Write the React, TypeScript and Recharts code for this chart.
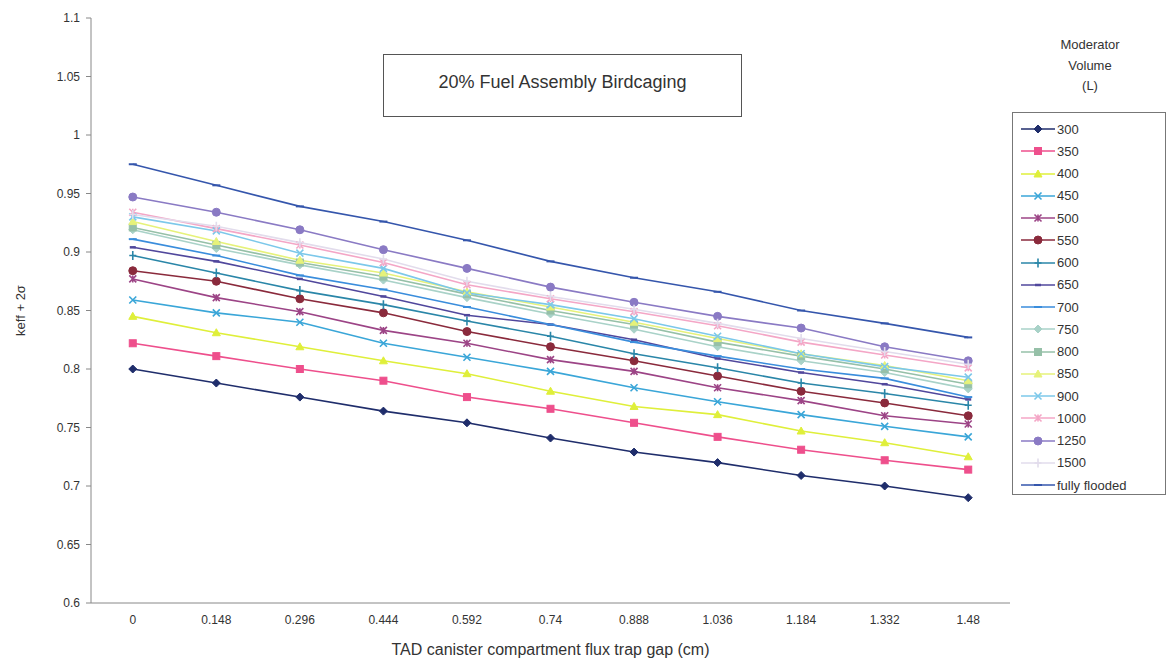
import React from 'react';
import { LineChart, Line, XAxis, YAxis, Label } from 'recharts';

const categories = ['0', '0.148', '0.296', '0.444', '0.592', '0.74', '0.888', '1.036', '1.184', '1.332', '1.48'];
const yTicks = [0.6, 0.65, 0.7, 0.75, 0.8, 0.85, 0.9, 0.95, 1, 1.05, 1.1];

const s300 = [0.800, 0.788, 0.776, 0.764, 0.754, 0.741, 0.729, 0.720, 0.709, 0.700, 0.690];
const s350 = [0.822, 0.811, 0.800, 0.790, 0.776, 0.766, 0.754, 0.742, 0.731, 0.722, 0.714];
const s400 = [0.845, 0.831, 0.819, 0.807, 0.796, 0.781, 0.768, 0.761, 0.747, 0.737, 0.725];
const s450 = [0.859, 0.848, 0.840, 0.822, 0.810, 0.798, 0.784, 0.772, 0.761, 0.751, 0.742];
const s500 = [0.877, 0.861, 0.849, 0.833, 0.822, 0.808, 0.798, 0.784, 0.773, 0.760, 0.753];
const s550 = [0.884, 0.875, 0.860, 0.848, 0.832, 0.819, 0.807, 0.794, 0.781, 0.771, 0.760];
const s600 = [0.897, 0.882, 0.867, 0.855, 0.841, 0.828, 0.813, 0.801, 0.788, 0.779, 0.769];
const s650 = [0.904, 0.892, 0.877, 0.862, 0.846, 0.838, 0.825, 0.809, 0.797, 0.787, 0.774];
const s700 = [0.911, 0.897, 0.880, 0.868, 0.853, 0.838, 0.823, 0.811, 0.800, 0.792, 0.776];
const s750 = [0.919, 0.903, 0.889, 0.876, 0.861, 0.847, 0.834, 0.819, 0.807, 0.797, 0.783];
const s800 = [0.921, 0.906, 0.891, 0.879, 0.864, 0.850, 0.838, 0.823, 0.811, 0.800, 0.787];
const s850 = [0.926, 0.909, 0.893, 0.882, 0.866, 0.853, 0.840, 0.826, 0.813, 0.803, 0.790];
const s900 = [0.930, 0.918, 0.899, 0.886, 0.865, 0.855, 0.843, 0.828, 0.813, 0.802, 0.793];
const s1000 = [0.934, 0.920, 0.906, 0.891, 0.872, 0.860, 0.849, 0.837, 0.823, 0.812, 0.801];
const s1250 = [0.947, 0.934, 0.919, 0.902, 0.886, 0.870, 0.857, 0.845, 0.835, 0.819, 0.807];
const s1500 = [0.932, 0.922, 0.908, 0.894, 0.875, 0.862, 0.851, 0.839, 0.826, 0.815, 0.804];
const sFlooded = [0.975, 0.957, 0.939, 0.926, 0.910, 0.892, 0.878, 0.866, 0.850, 0.839, 0.827];

const series = [
  { key: 's300', name: '300', values: s300, color: '#1f2d6b', marker: 'diamond' },
  { key: 's350', name: '350', values: s350, color: '#ee4f8c', marker: 'square' },
  { key: 's400', name: '400', values: s400, color: '#dfef3a', marker: 'triangle' },
  { key: 's450', name: '450', values: s450, color: '#3aa6d8', marker: 'x' },
  { key: 's500', name: '500', values: s500, color: '#9c4486', marker: 'star' },
  { key: 's550', name: '550', values: s550, color: '#8a2a3c', marker: 'circle' },
  { key: 's600', name: '600', values: s600, color: '#2a86a8', marker: 'plus' },
  { key: 's650', name: '650', values: s650, color: '#50479c', marker: 'dash' },
  { key: 's700', name: '700', values: s700, color: '#3a8ddc', marker: 'longdash' },
  { key: 's750', name: '750', values: s750, color: '#a9d2c8', marker: 'diamond' },
  { key: 's800', name: '800', values: s800, color: '#96c0a8', marker: 'square' },
  { key: 's850', name: '850', values: s850, color: '#e6f27a', marker: 'triangle' },
  { key: 's900', name: '900', values: s900, color: '#7cc8ea', marker: 'x' },
  { key: 's1000', name: '1000', values: s1000, color: '#f4a6c6', marker: 'star' },
  { key: 's1250', name: '1250', values: s1250, color: '#8a7ac4', marker: 'circle' },
  { key: 's1500', name: '1500', values: s1500, color: '#e2dcec', marker: 'plus' },
  { key: 'sFlooded', name: 'fully flooded', values: sFlooded, color: '#3556ac', marker: 'longdash' },
];

const data = categories.map((c, i) => {
  const row: any = { i, cat: c };
  series.forEach((s) => { row[s.key] = s.values[i]; });
  return row;
});

const boundaryTicks = [-0.5, ...categories.map((_, i) => i + 0.5)];

const FONT = '"Liberation Sans", Arial, sans-serif';

function markerShape(type: string, cx: number, cy: number, color: string, key?: any) {
  const r = 3.5;
  switch (type) {
    case 'diamond':
      return <polygon key={key} points={`${cx},${cy - 4} ${cx + 4},${cy} ${cx},${cy + 4} ${cx - 4},${cy}`} fill={color} stroke={color} />;
    case 'square':
      return <rect key={key} x={cx - r} y={cy - r} width={2 * r} height={2 * r} fill={color} stroke={color} />;
    case 'triangle':
      return <polygon key={key} points={`${cx},${cy - 4} ${cx + 4},${cy + 3} ${cx - 4},${cy + 3}`} fill={color} stroke={color} />;
    case 'x':
      return <path key={key} d={`M${cx - r},${cy - r}L${cx + r},${cy + r}M${cx - r},${cy + r}L${cx + r},${cy - r}`} stroke={color} strokeWidth={1.6} fill="none" />;
    case 'star':
      return <path key={key} d={`M${cx - r},${cy - r}L${cx + r},${cy + r}M${cx - r},${cy + r}L${cx + r},${cy - r}M${cx},${cy - r}L${cx},${cy + r}`} stroke={color} strokeWidth={1.6} fill="none" />;
    case 'circle':
      return <circle key={key} cx={cx} cy={cy} r={r + 0.5} fill={color} stroke={color} />;
    case 'plus':
      return <path key={key} d={`M${cx - r},${cy}L${cx + r},${cy}M${cx},${cy - r - 1}L${cx},${cy + r + 1}`} stroke={color} strokeWidth={1.6} fill="none" />;
    case 'dash':
      return <path key={key} d={`M${cx - 3},${cy}L${cx + 3},${cy}`} stroke={color} strokeWidth={2.5} fill="none" />;
    case 'longdash':
    default:
      return <path key={key} d={`M${cx - 4},${cy}L${cx + 4},${cy}`} stroke={color} strokeWidth={2} fill="none" />;
  }
}

const LegendBox = () => (
  <div
    style={{
      position: 'absolute',
      left: 1012,
      top: 112,
      border: '1px solid #777',
      background: '#fff',
      width: 154,
      height: 383,
      boxSizing: 'border-box',
      paddingTop: 5,
      fontFamily: FONT,
      fontSize: 13,
      color: '#333',
    }}
  >
    {series.map((s) => (
      <div key={s.key} style={{ display: 'flex', alignItems: 'center', height: 22.25 }}>
        <svg width={42} height={14} style={{ marginLeft: 6 }}>
          <line x1={2} y1={7} x2={36} y2={7} stroke={s.color} strokeWidth={1.5} />
          {markerShape(s.marker, 19, 7, s.color)}
        </svg>
        <span style={{ marginLeft: -4 }}>{s.name}</span>
      </div>
    ))}
  </div>
);

export default function App() {
  return (
    <div style={{ position: 'absolute', left: 0, top: 0, width: 1167, height: 665, background: '#fff', fontFamily: FONT }}>
      <LineChart width={1167} height={665} data={data} margin={{ top: 18, right: 157, bottom: 0, left: 0 }}>
        <XAxis
          xAxisId="a_marks"
          dataKey="i"
          type="number"
          domain={[-0.5, 10.5]}
          ticks={boundaryTicks}
          interval={0}
          tick={false}
          tickSize={5}
          tickLine={{ stroke: '#888' }}
          axisLine={{ stroke: '#888' }}
          height={1}
        />
        <XAxis
          xAxisId="b_labels"
          dataKey="i"
          type="number"
          domain={[-0.5, 10.5]}
          ticks={categories.map((_, i) => i)}
          tickFormatter={(v: number) => categories[v]}
          axisLine={false}
          tickLine={false}
          tickMargin={5}
          interval={0}
          tick={{ fontSize: 12, fill: '#333', fontFamily: FONT }}
          height={61}
        >
          <Label value="TAD canister compartment flux trap gap (cm)" position="insideBottom" offset={10} style={{ fontSize: 16, fill: '#333', fontFamily: FONT }} />
        </XAxis>
        <YAxis
          domain={[0.6, 1.1]}
          ticks={yTicks}
          interval={0}
          width={91}
          tickSize={5}
          tickMargin={6}
          tickFormatter={(v: number) => String(Number(v.toFixed(2)))}
          tick={{ fontSize: 12, fill: '#333', fontFamily: FONT }}
          tickLine={{ stroke: '#888' }}
          axisLine={{ stroke: '#888' }}
        >
          <Label value="keff + 2σ" angle={-90} position="insideLeft" offset={20} style={{ fontSize: 13, fill: '#333', fontFamily: FONT, textAnchor: 'middle' }} />
        </YAxis>
        {series.map((s) => (
          <Line
            key={s.key}
            xAxisId="b_labels"
            type="linear"
            dataKey={s.key}
            name={s.name}
            stroke={s.color}
            strokeWidth={1.6}
            isAnimationActive={false}
            dot={(p: any) => markerShape(s.marker, p.cx, p.cy, s.color, `${s.key}-${p.index}`)}
            activeDot={false}
          />
        ))}
      </LineChart>
      <LegendBox />
      <div
        style={{
          position: 'absolute',
          left: 383,
          top: 54,
          width: 359,
          height: 63,
          border: '1.5px solid #555',
          background: '#fff',
          boxSizing: 'border-box',
          display: 'flex',
          alignItems: 'flex-start',
          justifyContent: 'center',
          paddingTop: 17,
          fontSize: 18,
          color: '#333',
        }}
      >
        20% Fuel Assembly Birdcaging
      </div>
      <div
        style={{
          position: 'absolute',
          left: 1035,
          top: 35,
          width: 110,
          textAlign: 'center',
          fontSize: 13,
          lineHeight: '20.5px',
          color: '#333',
        }}
      >
        Moderator<br />Volume<br />(L)
      </div>
    </div>
  );
}
